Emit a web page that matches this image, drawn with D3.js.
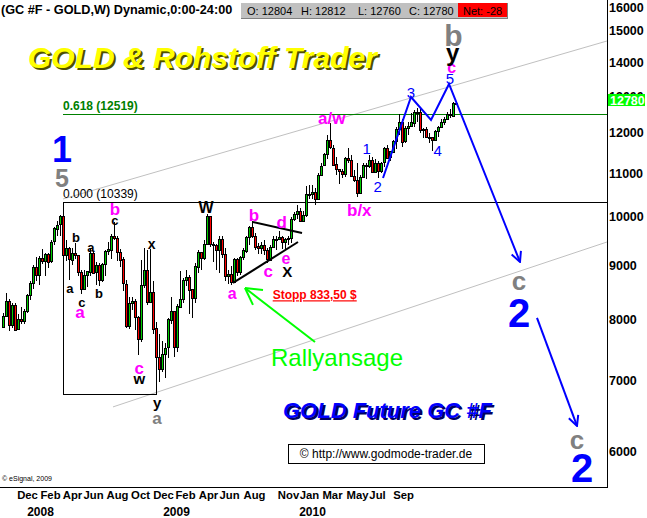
<!DOCTYPE html>
<html><head><meta charset="utf-8">
<script src="https://cdn.jsdelivr.net/npm/d3@7"></script>
<style>
body{margin:0;background:#fff}
svg{display:block;font-family:"Liberation Sans",Arial,sans-serif}
</style>
</head><body>
<svg id="c" width="647" height="518"></svg>
<script>
// ---- weekly OHLC (GC #F, price x10), first bar = week of 29 Oct 2007 ----
const opens = [7870,8060,8330,7900,8260,7830,8000,7970,8150,8430,
8660,8970,8810,9150,9100,9230,9080,9470,9750,9830,
10010,9200,9350,9120,9250,9210,8870,8550,8810,8880,
9250,8860,9000,8720,9030,9280,9320,9600,9550,9270,
9120,8650,7890,8290,8330,8040,7670,8630,8910,8310,
8500,7850,7370,7180,7420,7520,8000,8150,7530,8230,
8370,8720,8780,8540,8380,8980,9270,9140,9420,10020,
9430,9410,9300,9530,9230,8800,8830,8680,9120,8870,
9160,9300,9580,9780,9600,9380,9330,9400,9300,9110,
9370,9530,9530,9570,9470,9540,9550,9960,10070,10130,
9910,10030,10500,10510,10560,10400,10960,11180,11460,11810,
11620,11210,11090,11050,10970,11370,11310,10920,10830,10530,
10900,11200,11170,11320,11030,11250,11050,11250,11610,11370,
11530,11800,12100,12290,11770,12120,12180,12280,12570,12570,
12080,12110,11900,11890,11810,12050,12150,12280,12370,12500,
12460,12804];
const highs = [8120,8480,8360,8300,8300,8100,8220,8180,8450,8700,
9000,9170,9180,9330,9250,9250,9500,9780,9900,10050,
10339,9500,9370,9350,9450,9210,8900,8900,8860,9350,
9280,9060,9050,9050,9310,9470,9630,9880,9600,9320,
9160,8710,8400,8400,8370,8060,9100,9350,9310,9320,
8700,7950,7750,7640,7600,8030,8400,8150,8270,8880,
8750,8900,8810,8550,9040,9300,9270,9510,10070,10020,
9470,9420,9600,9600,9350,8900,8990,9150,9150,9180,
9350,9600,9800,9900,9650,9450,9470,9500,9350,9400,
9600,9600,9700,9600,9550,9600,10000,10100,10250,10200,
10120,10700,10720,10720,10650,11010,11240,11500,11950,12270,
11700,11400,11100,11100,11400,11620,11450,11080,11250,10950,
11250,11230,11430,11380,11330,11300,11270,11650,11700,11550,
11830,12150,12500,12380,12190,12280,12530,12620,12660,12650,
12120,12170,12000,11900,12070,12180,12380,12430,12550,12650,
12830,12812];
const lows = [7850,8050,7810,7850,7810,7830,7930,7920,8120,8350,
8550,8700,8630,9030,8790,8950,9050,9400,9600,9600,
9140,9090,8720,9000,9130,8800,8460,8550,8590,8800,
8830,8630,8600,8680,8800,9200,9120,9500,9080,8960,
8520,7860,7840,8170,7820,7400,7620,8570,8260,8300,
7750,6810,6980,7140,7050,7350,7920,7380,7450,8200,
8300,8600,8090,8020,8300,8850,8910,9100,9400,9370,
9060,8900,8860,9150,8700,8650,8620,8660,8800,8820,
9100,9250,9400,9550,9300,9220,9220,9200,9050,9100,
9350,9300,9500,9330,9310,9400,9450,9900,9950,9880,
9900,10000,10400,10400,10250,10400,10930,11160,11350,11600,
11170,10950,10750,10880,10900,11250,10900,10780,10450,10500,
10900,10850,11130,11000,11030,10880,11000,11150,11350,11280,
11500,11600,11950,11650,11750,11950,12150,12170,12280,12000,
11880,11900,11750,11550,11800,11900,12150,12220,12360,12400,
12430,12760];
const closes = [8060,8330,7900,8260,7830,8000,7970,8150,8430,8660,
8970,8810,9150,9100,9230,9080,9470,9750,9830,10010,
9200,9350,9120,9250,9210,8870,8550,8810,8880,9250,
8860,9000,8720,9030,9280,9320,9600,9550,9270,9120,
8650,7890,8290,8330,8040,7670,8630,8910,8310,8500,
7850,7370,7180,7420,7520,8000,8150,7530,8230,8370,
8720,8780,8540,8380,8980,9270,9140,9420,10020,9430,
9410,9300,9530,9230,8800,8830,8680,9120,8870,9160,
9300,9580,9780,9600,9380,9330,9400,9300,9110,9370,
9530,9530,9570,9470,9540,9550,9960,10070,10130,9910,
10030,10500,10510,10560,10400,10960,11180,11460,11810,11620,
11210,11090,11050,10970,11370,11310,10920,10830,10530,10900,
11200,11170,11320,11030,11250,11050,11250,11610,11370,11530,
11800,12100,12290,11770,12120,12180,12280,12570,12570,12080,
12110,11900,11890,11810,12050,12150,12280,12370,12500,12460,
12808,12780];

// ---- axes ----
const priceTicks = [6000,7000,8000,9000,10000,11000,12000,13000,14000,15000,16000];
const monthPos = [8,15.67,23,30,38,45.67,53.33,60.67,68.33,75.33,83.67,95,102,109.67,118,124.67,133.33];
const monthLabels = ["Dec","Feb","Apr","Jun","Aug","Oct","Dec","Feb","Apr","Jun","Aug","Nov","Jan","Mar","May","Jul","Sep"];
const yearPos = [12.33,57.67,103];
const yearLabels = ["2008","2009","2010"];

// ---- Fibonacci tool ----
const fibStart = 20, fibLowEnd = 51.33, fibLow = 6810;
const fibLevels = [10339, 12519];
const fibTexts = ["0.000 (10339)", "0.618 (12519)"];
const fibColors = ["#000000", "#008000"];

// ---- channel lines [i1,p1,i2,p2] ----
const channels = [[20,10396,201.33,14657],[36.67,6615,201.33,9468]];
// ---- triangle lines ----
const triangle = [[83.33,9889,99.67,9655],[76.67,8661,98.33,9468]];
// ---- forecast wave path ----
const wavePath = [[126.67,10882],[136,12977],[142.67,12344],[148.67,13349],[172.33,9066]];
const waveArrow2 = [[178,8027],[191.33,6347]];
// ---- green arrow ----
const greenArrow = [[104,7618],[80.67,8567]];
const greenHeads = [[86.67,8530],[83.33,8257]];

// ---- wave labels: text, week index, price, colour, size, weight ----
const labels = [
 ["1",19.67,11590,"#0000ff",36,"bold"],
 ["5",19.67,10882,"#808080",25,"bold"],
 ["b",24.33,9572,"#000",13,"bold"],
 ["a",29.33,9366,"#000",13,"bold"],
 ["a",22.33,8567,"#000",13,"bold"],
 ["c",26.33,8311,"#000",13,"bold"],
 ["a",25.67,8132,"#ff00ff",17,"bold"],
 ["b",32,8475,"#000",13,"bold"],
 ["b",37.33,10172,"#ff00ff",17,"bold"],
 ["c",37.33,9932,"#000",13,"bold"],
 ["x",49.57,9427,"#000",14,"bold"],
 ["c",45.43,7200,"#ff00ff",17,"bold"],
 ["w",45.43,7030,"#000",15,"bold"],
 ["y",51.43,6672,"#000",15,"bold"],
 ["a",51.33,6458,"#808080",17,"bold"],
 ["W",67.67,10217,"#000",16,"bold"],
 ["b",83.67,10041,"#ff00ff",17,"bold"],
 ["d",92.9,9889,"#ff00ff",17,"bold"],
 ["e",94.33,9145,"#ff00ff",16,"bold"],
 ["c",88.43,8890,"#ff00ff",17,"bold"],
 ["X",94.77,8871,"#000",15,"bold"],
 ["a",76.43,8475,"#ff00ff",16,"bold"],
 ["a/w",109.57,12398,"#ff00ff",17,"bold"],
 ["b/x",118.77,10150,"#ff00ff",17,"bold"],
 ["1",121.23,11590,"#0000ff",15,"normal"],
 ["2",124.9,10671,"#0000ff",15,"normal"],
 ["3",136,13090,"#0000ff",15,"normal"],
 ["4",144.9,11540,"#0000ff",15,"normal"],
 ["5",149,13495,"#0000ff",15,"normal"],
 ["c",149.57,13851,"#ff00ff",16,"bold"],
 ["y",149.9,14311,"#000",24,"bold"],
 ["b",150.1,14849,"#808080",30,"bold"],
 ["c",172,8699,"#808080",26,"bold"],
 ["2",172,8114,"#0000ff",40,"bold"],
 ["c",191.33,6157,"#808080",26,"bold"],
 ["2",193,5793,"#0000ff",40,"bold"]
];

const svg = d3.select("#c");
const x = d3.scaleLinear().domain([0,151]).range([3,456]);
const y = d3.scaleLog().domain([6000,16000]).range([451.8,0.67]);
const PW = 607, PH = 487;

// channel lines
svg.append("g").selectAll("line").data(channels).join("line")
 .attr("x1",d=>x(d[0])).attr("y1",d=>y(d[1])).attr("x2",d=>x(d[2])).attr("y2",d=>y(d[3]))
 .attr("stroke","#c0c0c0").attr("stroke-width",1);

// fib lines
const fg = svg.append("g").attr("shape-rendering","crispEdges");
fg.selectAll("line.lv").data(fibLevels).join("line").attr("class","lv")
 .attr("x1",x(fibStart)).attr("x2",PW).attr("y1",d=>Math.round(y(d))+0.5).attr("y2",d=>Math.round(y(d))+0.5)
 .attr("stroke",(d,i)=>fibColors[i]);
fg.append("line").attr("x1",Math.round(x(fibStart))+0.5).attr("x2",Math.round(x(fibStart))+0.5)
 .attr("y1",y(fibLevels[0])).attr("y2",y(fibLow)).attr("stroke","#000");
fg.append("line").attr("x1",x(fibStart)).attr("x2",x(fibLowEnd))
 .attr("y1",Math.round(y(fibLow))+0.5).attr("y2",Math.round(y(fibLow))+0.5).attr("stroke","#000");
svg.selectAll("text.fib").data(fibLevels).join("text").attr("class","fib")
 .attr("x",x(fibStart)).attr("y",d=>y(d)-4).text((d,i)=>fibTexts[i])
 .attr("fill",(d,i)=>fibColors[i]).attr("font-size",12).attr("font-weight",(d,i)=>i?"bold":"normal");

// candles
const idx = d3.range(closes.length);
const cg = svg.append("g").attr("shape-rendering","crispEdges");
cg.selectAll("line").data(idx).join("line")
 .attr("x1",i=>Math.round(x(i))+0.5).attr("x2",i=>Math.round(x(i))+0.5)
 .attr("y1",i=>y(highs[i])).attr("y2",i=>y(lows[i])).attr("stroke","#000");
cg.selectAll("rect").data(idx).join("rect")
 .attr("x",i=>Math.round(x(i))-0.5).attr("width",2)
 .attr("y",i=>Math.round(y(Math.max(opens[i],closes[i])))+0.5)
 .attr("height",i=>Math.max(1,Math.round(y(Math.min(opens[i],closes[i]))-y(Math.max(opens[i],closes[i])))))
 .attr("fill",i=>closes[i]>=opens[i]?"#00cc00":"#ff0000").attr("stroke","#000");

// triangle lines
svg.append("g").selectAll("line").data(triangle).join("line")
 .attr("x1",d=>x(d[0])).attr("y1",d=>y(d[1])).attr("x2",d=>x(d[2])).attr("y2",d=>y(d[3]))
 .attr("stroke","#000").attr("stroke-width",2);

// arrow markers
const defs = svg.append("defs");
defs.append("marker").attr("id","ab").attr("viewBox","0 0 12 12").attr("refX",11).attr("refY",6)
 .attr("markerWidth",12).attr("markerHeight",12).attr("markerUnits","userSpaceOnUse").attr("orient","auto")
 .append("path").attr("d","M1,1 L11,6 L1,11").attr("fill","none").attr("stroke","#0000ff").attr("stroke-width",2);

const line = d3.line().x(d=>x(d[0])).y(d=>y(d[1]));
svg.append("path").attr("d",line(wavePath)).attr("fill","none").attr("stroke","#0000ff").attr("stroke-width",2).attr("marker-end","url(#ab)");
svg.append("path").attr("d",line(waveArrow2)).attr("fill","none").attr("stroke","#0000ff").attr("stroke-width",2).attr("marker-end","url(#ab)");

// green arrow
svg.append("path").attr("d",line(greenArrow)).attr("stroke","#00ff00").attr("stroke-width",2).attr("fill","none");
svg.append("g").selectAll("line").data(greenHeads).join("line")
 .attr("x1",x(greenArrow[1][0])).attr("y1",y(greenArrow[1][1])).attr("x2",d=>x(d[0])).attr("y2",d=>y(d[1]))
 .attr("stroke","#00ff00").attr("stroke-width",2);

// labels
svg.append("g").selectAll("text").data(labels).join("text")
 .attr("x",d=>x(d[1])).attr("y",d=>y(d[2])).attr("dy","0.36em").attr("text-anchor","middle")
 .attr("fill",d=>d[3]).attr("font-size",d=>d[4]).attr("font-weight",d=>d[5]).text(d=>d[0]);

// stop text + Rallyansage
svg.append("text").attr("x",x(89.9)).attr("y",y(8438)).attr("dy","0.36em").attr("fill","#ff0000")
 .attr("font-size",12).attr("font-weight","bold").attr("text-decoration","underline").text("Stopp 833,50 $");
svg.append("text").attr("x",x(89.33)).attr("y",y(7374)).attr("dy","0.36em").attr("fill","#00ff00")
 .attr("font-size",24).text("Rallyansage");

// titles
const t1 = svg.append("g").attr("font-size",30).attr("font-weight","bold").attr("font-style","italic");
t1.append("text").attr("x",30).attr("y",70).attr("fill","#505000").text("GOLD & Rohstoff Trader");
t1.append("text").attr("x",28).attr("y",68).attr("fill","#ffff00").text("GOLD & Rohstoff Trader");
const t2 = svg.append("g").attr("font-size",22).attr("font-weight","bold").attr("font-style","italic");
t2.append("text").attr("x",285).attr("y",420).attr("fill","#000060").text("GOLD Future GC #F");
t2.append("text").attr("x",283).attr("y",418).attr("fill","#0000ff").text("GOLD Future GC #F");

svg.append("rect").attr("x",288.5).attr("y",444.5).attr("width",196).attr("height",19).attr("fill","#fff").attr("stroke","#000");
svg.append("text").attr("x",386).attr("y",458).attr("text-anchor","middle").attr("font-size",12).text("\u00a9 http://www.godmode-trader.de");
svg.append("text").attr("x",2).attr("y",481).attr("font-size",7).text("\u00a9 eSignal, 2009");

// frame
const fr = svg.append("g").attr("shape-rendering","crispEdges");
fr.append("line").attr("x1",PW+0.5).attr("x2",PW+0.5).attr("y1",0).attr("y2",PH).attr("stroke","#000");
fr.append("line").attr("x1",0).attr("x2",PW+1).attr("y1",PH+0.5).attr("y2",PH+0.5).attr("stroke","#000");

// right axis
const ax = svg.append("g").attr("transform",`translate(${PW},0)`)
 .call(d3.axisRight(y).tickValues(priceTicks).tickSize(0).tickPadding(2).tickFormat(d3.format("d")));
ax.select(".domain").remove();
ax.selectAll("text").attr("font-size",12.5).attr("font-weight","bold").attr("font-family","Liberation Sans, Arial").attr("fill","#000");
ax.selectAll(".tick").filter(d=>d===16000).select("text").attr("y",7);

// last price marker
const last = closes.length-1;
svg.append("rect").attr("x",PW+1).attr("y",y(closes[last])-10).attr("width",37).attr("height",12).attr("fill","#00ff00");
svg.append("text").attr("x",PW+3).attr("y",y(closes[last])-4).attr("dy","0.36em").attr("fill","#fff")
 .attr("font-size",12.5).attr("font-weight","bold").text(closes[last]);

// bottom axis
const bx = svg.append("g").attr("transform",`translate(0,${PH})`)
 .call(d3.axisBottom(x).tickValues(monthPos).tickSize(0).tickPadding(4).tickFormat((d,i)=>monthLabels[i]));
bx.select(".domain").remove();
bx.selectAll("text").attr("font-size",11.3).attr("font-weight","bold").attr("font-family","Liberation Sans, Arial").attr("fill","#000");
const by = svg.append("g").attr("transform",`translate(0,${PH+16})`)
 .call(d3.axisBottom(x).tickValues(yearPos).tickSize(0).tickPadding(4).tickFormat((d,i)=>yearLabels[i]));
by.select(".domain").remove();
by.selectAll("text").attr("font-size",12).attr("font-weight","bold").attr("font-family","Liberation Sans, Arial").attr("fill","#000");

// header
svg.append("text").attr("x",1).attr("y",14).attr("font-size",12.7).attr("font-weight","bold").text("(GC #F - GOLD,W) Dynamic,0:00-24:00");
const hb = svg.append("g").attr("shape-rendering","crispEdges");
hb.append("rect").attr("x",240).attr("y",2).attr("width",268).attr("height",17).attr("fill","#c0c0c0");
hb.append("path").attr("d","M240.5,18.5 V2.5 H507.5").attr("stroke","#fff").attr("fill","none");
hb.append("path").attr("d","M240.5,18.5 H507.5 V2.5").attr("stroke","#808080").attr("fill","none");
hb.append("rect").attr("x",458).attr("y",3).attr("width",49).attr("height",14).attr("fill","#ff0000");
const hv = [["O: "+opens[last],247],["H: "+highs[last],301],["L: "+lows[last],358],["C: "+closes[last],409],["Net: "+(closes[last]-closes[last-1]),463]];
svg.append("g").selectAll("text").data(hv).join("text").attr("x",d=>d[1]).attr("y",15)
 .attr("font-size",11).attr("fill","#000").text(d=>d[0]);
</script>
</body></html>
